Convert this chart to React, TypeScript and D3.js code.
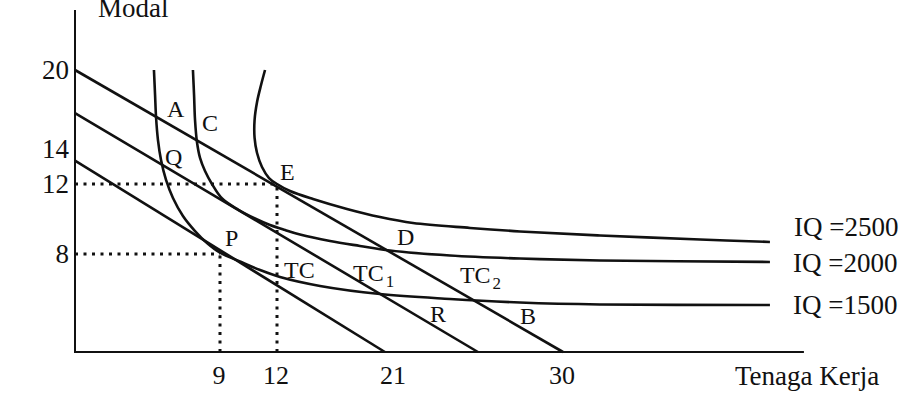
import React from "react";
import * as d3 from "d3";

// ---- data (schematic units) ----
const xTicks = [9, 12, 21, 30];
const yTicks = [20, 14, 12, 8];

// anchor points for the schematic (non-uniform) axes
const xAnchors = [0, 9, 12, 21, 30];
const yAnchors = [0, 8, 12, 14, 20];

const xAxisEnd = 42.83;
const yAxisTop = 24.56;

// isocost lines: [y-intercept, x-intercept]
const tcLines = [
  { name: "TC", y0: 13.34, x0: 20.3 },
  { name: "TC1", y0: 16.73, x0: 25.47 },
  { name: "TC2", y0: 20, x0: 30 },
];

const iq1500: [number, number][] = [
  [4.9, 20], [4.97, 18.1], [5.03, 16.43], [5.15, 14.68], [5.34, 13.37], [5.65, 12.23],
  [6.08, 11.2], [6.7, 10.17], [7.45, 9.31], [8.19, 8.63], [9.0, 8.08], [10.05, 7.39],
  [11.11, 6.69], [12.23, 6.12], [15.31, 5.39], [19.92, 4.73], [23.98, 4.33],
  [27.71, 4.04], [31.97, 3.88], [41.02, 3.84],
];

const iq2000: [number, number][] = [
  [7.32, 20], [7.39, 18.1], [7.45, 16.2], [7.57, 14.53], [7.76, 13.49], [8.07, 12.74],
  [8.5, 12.0], [9.11, 11.17], [9.95, 10.54], [10.84, 10.03], [11.63, 9.66], [12.62, 9.37],
  [13.77, 9.11], [16.08, 8.74], [18.38, 8.46], [20.69, 8.2], [23.98, 7.88], [27.71, 7.63],
  [31.97, 7.47], [41.02, 7.35],
];

const iq2500: [number, number][] = [
  [11.37, 20], [11.16, 18.86], [10.95, 17.57], [10.82, 16.2], [10.82, 14.84], [10.95, 13.77],
  [11.21, 12.97], [11.58, 12.34], [12.0, 12.0], [13.0, 11.6], [14.77, 11.14], [17.38, 10.57],
  [19.92, 10.11], [22.01, 9.77], [25.05, 9.49], [27.71, 9.29], [31.97, 9.06], [37.3, 8.83],
  [41.02, 8.69],
];

const isoquants = [
  { label: "IQ =1500", points: iq1500, labelX: 42.25, labelY: 3.1 },
  { label: "IQ =2000", points: iq2000, labelX: 42.25, labelY: 6.53 },
  { label: "IQ =2500", points: iq2500, labelX: 42.3, labelY: 9.03 },
];

// dotted guide lines to the optimum points
const guides = [
  { x: 9, y: 8 },
  { x: 12, y: 12 },
];

// point letters (data coords of the letter's anchor)
const pointLabels = [
  { text: "A", x: 5.71, y: 16.43 },
  { text: "C", x: 7.88, y: 15.37 },
  { text: "Q", x: 5.59, y: 13.09 },
  { text: "E", x: 12.23, y: 12.23 },
  { text: "P", x: 9.26, y: 8.46 },
  { text: "D", x: 21.16, y: 8.51 },
  { text: "R", x: 22.92, y: 2.45 },
  { text: "B", x: 27.71, y: 2.29 },
];

const tcLabels = [
  { main: "TC", sub: "", x: 12.54, y: 6.04 },
  { main: "TC", sub: "1", x: 17.85, y: 5.8 },
  { main: "TC", sub: "2", x: 24.51, y: 5.63 },
];

const xTitle = "Tenaga Kerja";
const yTitle = "Modal";
const xTitleAt = 39.16;

// ---- component ----
const W = 920;
const H = 409;
const FONT = "'Liberation Serif', 'Times New Roman', Times, serif";
const INK = "#111";

export default function App() {
  const x = d3.scaleLinear().domain(xAnchors).range([75, 220, 277, 394, 563]);
  const y = d3.scaleLinear().domain(yAnchors).range([352, 254, 184, 149, 70]);

  const curve = d3
    .line<[number, number]>()
    .x((d) => x(d[0]))
    .y((d) => y(d[1]))
    .curve(d3.curveCatmullRom.alpha(0.5));

  const straight = d3
    .line<[number, number]>()
    .x((d) => x(d[0]))
    .y((d) => y(d[1]));

  return (
    <svg
      width={W}
      height={H}
      style={{ position: "absolute", left: 0, top: 0, background: "#fff" }}
      fontFamily={FONT}
    >
      <rect width={W} height={H} fill="#fff" />

      {/* dotted guides */}
      {guides.map((g, i) => (
        <g key={i} stroke={INK} strokeWidth={3} strokeDasharray="3 5.5" fill="none">
          <path d={straight([[0, g.y], [g.x, g.y]])!} />
          <path d={straight([[g.x, 0], [g.x, g.y]])!} />
        </g>
      ))}

      {/* axes */}
      <path d={straight([[0, yAxisTop], [0, 0], [xAxisEnd, 0]])!} stroke={INK} strokeWidth={2} fill="none" />

      {/* isocost lines */}
      {tcLines.map((t) => (
        <path
          key={t.name}
          d={straight([[0, t.y0], [t.x0, 0]])!}
          stroke={INK}
          strokeWidth={2.6}
          fill="none"
        />
      ))}

      {/* isoquants */}
      {isoquants.map((q) => (
        <path key={q.label} d={curve(q.points)!} stroke={INK} strokeWidth={2.6} fill="none" />
      ))}

      {/* isoquant labels */}
      {isoquants.map((q) => (
        <text key={q.label} x={x(q.labelX)} y={y(q.labelY)} fontSize={27} fill={INK}>
          {q.label}
        </text>
      ))}

      {/* point letters */}
      {pointLabels.map((p) => (
        <text key={p.text} x={x(p.x)} y={y(p.y)} fontSize={24} fill={INK}>
          {p.text}
        </text>
      ))}

      {/* TC labels */}
      {tcLabels.map((t, i) => (
        <text key={i} x={x(t.x)} y={y(t.y)} fontSize={24} fill={INK}>
          {t.main}
          {t.sub && (
            <tspan fontSize={17} dy={6} dx={2}>
              {t.sub}
            </tspan>
          )}
        </text>
      ))}

      {/* tick labels */}
      {xTicks.map((v) => (
        <text key={v} x={x(v) - 1} y={y(0) + 32} fontSize={26} textAnchor="middle" fill={INK}>
          {v}
        </text>
      ))}
      {yTicks.map((v) => (
        <text key={v} x={x(0) - 6} y={y(v)} dy="0.34em" fontSize={27} textAnchor="end" fill={INK}>
          {v}
        </text>
      ))}

      {/* axis titles */}
      <text x={x(xTitleAt)} y={y(0) + 33} fontSize={27} fill={INK}>
        {xTitle}
      </text>
      <text x={x(0) + 23} y={y(yAxisTop) + 7} fontSize={27} fill={INK}>
        {yTitle}
      </text>
    </svg>
  );
}
